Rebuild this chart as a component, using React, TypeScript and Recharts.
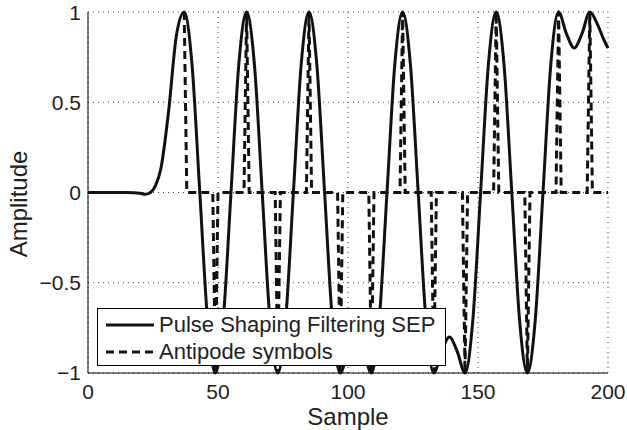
import React from 'react';
import {
  LineChart, Line, XAxis, YAxis, CartesianGrid, Legend
} from 'recharts';

// filtered signal
const sampleX = [
  0, 5, 10, 15, 20, 22, 24, 26, 28, 31, 34, 37, 40, 43, 46, 49, 52, 55, 58, 61,
  64, 67, 70, 73, 76, 79, 82, 85, 88, 91, 94, 97, 100, 103, 106, 109, 112, 115,
  118, 121, 124, 127, 130, 133, 136, 139, 142, 145, 148, 151, 154, 157, 160, 163,
  166, 169, 172, 175, 178, 181, 184, 187, 190, 193, 196, 198, 200
];
const pulseY = [
  0, 0, 0, 0, -0.004, -0.01, 0, 0.04, 0.13, 0.45, 0.87, 1, 0.71, 0, -0.71, -1, -0.71, 0, 0.71, 1,
  0.71, 0, -0.71, -1, -0.71, 0, 0.71, 1, 0.71, 0, -0.71, -1, -0.88, -0.8, -0.88, -1, -0.71, 0,
  0.71, 1, 0.71, 0, -0.71, -1, -0.88, -0.8, -0.88, -1, -0.71, 0, 0.71, 1, 0.71, 0,
  -0.71, -1, -0.71, 0, 0.71, 1, 0.88, 0.8, 0.88, 1, 0.93, 0.86, 0.8
];

// antipodal symbols (one every 12 samples)
const symbolPos = [37, 49, 61, 73, 85, 97, 109, 121, 133, 145, 157, 169, 181, 193];
const symbolVal = [1, -1, 1, -1, 1, -1, -1, 1, -1, -1, 1, -1, 1, 1];
const symbolStart = 37;
const symbolEnd = 200;

const xTicks = [0, 50, 100, 150, 200];
const yTicks = [-1, -0.5, 0, 0.5, 1];

const seriesNames = ['Pulse Shaping Filtering SEP', 'Antipode symbols'];

const FONT = '"Liberation Sans", Arial, Helvetica, sans-serif';
const INK = '#111';
const DASH = '8 5';

const pulseData = sampleX.map((x, i) => ({ x, y: pulseY[i] }));

const antipodeData: Array<{ x: number; y: number }> = [];
for (let s = symbolStart; s <= symbolEnd; s++) {
  const k = symbolPos.indexOf(s);
  antipodeData.push({ x: s, y: k >= 0 ? symbolVal[k] : 0 });
}

const fmtY = (v: number) => (v < 0 ? '\u2212' + Math.abs(v) : String(v));

const LegendBox = () => (
  <div
    style={{
      width: 349, height: 58, boxSizing: 'border-box', border: '1px solid #000',
      background: '#fff', fontFamily: FONT, fontSize: 22, color: '#222',
      padding: '2px 0 0 8px'
    }}
  >
    {seriesNames.map((name, i) => (
      <div key={name} style={{ display: 'flex', alignItems: 'center', height: 27 }}>
        <svg width={48} height={10} style={{ marginRight: 5 }}>
          <line x1={0} y1={5} x2={48} y2={5} stroke={INK} strokeWidth={3}
            strokeDasharray={i === 1 ? DASH : undefined} />
        </svg>
        <span style={{ lineHeight: '27px', whiteSpace: 'nowrap' }}>{name}</span>
      </div>
    ))}
  </div>
);

const App: React.FC = () => {
  return (
    <div style={{ position: 'absolute', left: 0, top: 0, background: '#fff' }}>
      <LineChart
        width={627}
        height={430}
        margin={{ top: 12, right: 19, bottom: 27, left: 28 }}
        style={{ fontFamily: FONT }}
      >
        <CartesianGrid stroke="#444" strokeDasharray="1 4" />
        <XAxis
          dataKey="x" type="number" domain={[0, 200]} ticks={xTicks}
          height={30} tickLine={false} tickMargin={5}
          axisLine={{ stroke: '#000' }}
          tick={{ fontSize: 21, fill: '#222', fontFamily: FONT }}
          label={() => (
            <text x={348} y={425} textAnchor="middle" fontSize={24} fill="#222" fontFamily={FONT}>
              Sample
            </text>
          )}
        />
        <XAxis
          xAxisId="top" orientation="top" dataKey="x" type="number" domain={[0, 200]}
          ticks={xTicks} height={0} mirror tick={false} tickSize={5}
          axisLine={{ stroke: '#000' }} tickLine={{ stroke: '#000' }}
        />
        <YAxis
          type="number" domain={[-1, 1]} ticks={yTicks} width={60}
          tickLine={false} tickMargin={1} tickFormatter={fmtY}
          axisLine={{ stroke: '#000' }}
          tick={{ fontSize: 21, fill: '#222', fontFamily: FONT }}
          label={() => (
            <text x={27} y={204} transform="rotate(-90 27 204)" textAnchor="middle"
              fontSize={24} fill="#222" fontFamily={FONT}>
              Amplitude
            </text>
          )}
        />
        <YAxis
          yAxisId="right" orientation="right" type="number" domain={[-1, 1]}
          ticks={yTicks} width={0} mirror tick={false} tickSize={5}
          axisLine={{ stroke: '#000' }} tickLine={{ stroke: '#000' }}
        />
        <Line
          data={pulseData} dataKey="y" type="monotone" stroke={INK} strokeWidth={3}
          dot={false} activeDot={false} isAnimationActive={false} name={seriesNames[0]}
        />
        <Line
          data={antipodeData} dataKey="y" type="linear" stroke={INK} strokeWidth={3}
          strokeDasharray={DASH} dot={false} activeDot={false}
          isAnimationActive={false} name={seriesNames[1]}
        />
        <Legend
          layout="vertical" verticalAlign="middle" align="center"
          wrapperStyle={{ left: 97, top: 308, width: 349, height: 58 }}
          content={() => <LegendBox />}
        />
      </LineChart>
    </div>
  );
};

export default App;
